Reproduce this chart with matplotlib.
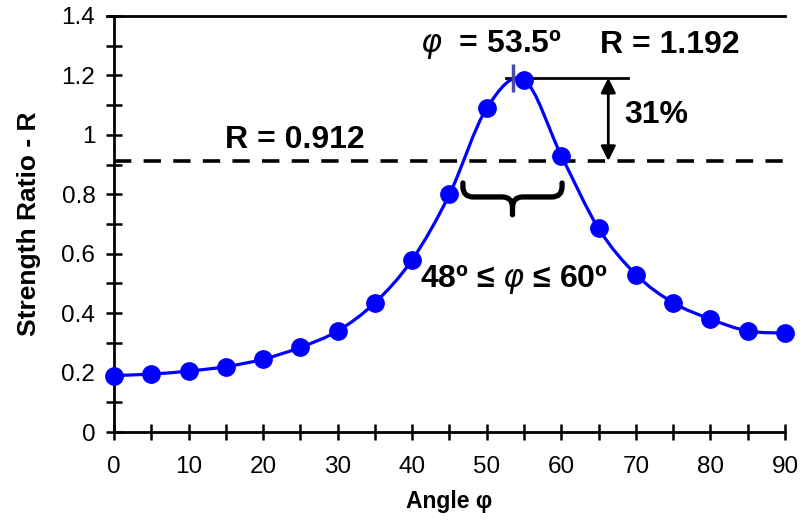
import matplotlib.pyplot as plt
from matplotlib.path import Path
from matplotlib.patches import PathPatch
from matplotlib.ticker import MultipleLocator

plt.rcParams['font.family'] = ['Liberation Sans', 'DejaVu Sans']
plt.rcParams['mathtext.fontset'] = 'dejavusans'

# dados
angulos = [0, 5, 10, 15, 20, 25, 30, 35, 40, 45, 50, 55, 60, 65, 70, 75, 80, 85, 90]
razao = [0.19, 0.195, 0.205, 0.22, 0.245, 0.285, 0.34, 0.435, 0.58, 0.80, 1.09,
         1.185, 0.93, 0.685, 0.53, 0.435, 0.38, 0.34, 0.333]
pico_angulo = 53.5
pico_r = 1.192
r_limite = 0.912
faixa = (48, 60)
rotulos_y = ['0', '0.2', '0.4', '0.6', '0.8', '1', '1.2', '1.4']

fig = plt.figure(figsize=(8.07, 5.21), dpi=100)
ax = fig.add_axes([0.1413, 0.1708, 0.8314, 0.7985])

# curva suavizada (estilo Excel) via Bezier Catmull-Rom
azul = '#0000ff'
verts = [(angulos[0], razao[0])]
codes = [Path.MOVETO]
n = len(angulos)
for i in range(n - 1):
    p0 = (angulos[max(i - 1, 0)], razao[max(i - 1, 0)])
    p1 = (angulos[i], razao[i])
    p2 = (angulos[i + 1], razao[i + 1])
    p3 = (angulos[min(i + 2, n - 1)], razao[min(i + 2, n - 1)])
    c1 = (p1[0] + (p2[0] - p0[0]) / 6, p1[1] + (p2[1] - p0[1]) / 6)
    c2 = (p2[0] - (p3[0] - p1[0]) / 6, p2[1] - (p3[1] - p1[1]) / 6)
    verts += [c1, c2, p2]
    codes += [Path.CURVE4] * 3
ax.add_patch(PathPatch(Path(verts, codes), fill=False, ec=azul, lw=2.3, zorder=3))
ax.plot(angulos, razao, 'o', color=azul, ms=12.5, zorder=4, clip_on=False)
ax.plot([pico_angulo], [pico_r], '|', color='#4b4ba8', ms=20, mew=2.5, zorder=5)

# linhas de referência
ax.axhline(r_limite, color='black', lw=2.6, ls=(0, (4.8, 3.4)), zorder=2)
ax.plot([52.6, 68.9], [pico_r, pico_r], color='black', lw=2, zorder=2)
ax.annotate('', xy=(66.3, r_limite), xytext=(66.3, pico_r),
            arrowprops=dict(arrowstyle='<|-|>', color='black', lw=2,
                            mutation_scale=22, shrinkA=0, shrinkB=0))

# chave
x0, x1 = faixa[0] - 1.2, faixa[1] + 0.1
xm = (x0 + x1) / 2
yt, yh, yb = 0.838, 0.791, 0.731
rx, ry = 1.4, 0.035
chave = Path([(x0, yt), (x0, yh + ry), (x0, yh), (x0 + rx, yh),
              (xm - rx, yh), (xm, yh), (xm, yh - ry), (xm, yb),
              (xm, yh - ry), (xm, yh), (xm + rx, yh),
              (x1 - rx, yh), (x1, yh), (x1, yh + ry), (x1, yt)],
             [Path.MOVETO, Path.LINETO, Path.CURVE3, Path.CURVE3,
              Path.LINETO, Path.CURVE3, Path.CURVE3, Path.LINETO,
              Path.MOVETO, Path.CURVE3, Path.CURVE3,
              Path.LINETO, Path.CURVE3, Path.CURVE3, Path.LINETO])
ax.add_patch(PathPatch(chave, fill=False, ec='black', lw=3.8, capstyle='round',
                       joinstyle='round', zorder=2))

# textos
fs = 23
ax.text(41.0, 1.303, r'$\varphi$  = 53.5º', fontsize=fs, fontweight='bold', va='center')
ax.text(65.2, 1.303, 'R = 1.192', fontsize=fs, fontweight='bold', va='center')
ax.text(14.9, 0.983, 'R = 0.912', fontsize=fs, fontweight='bold', va='center')
ax.text(68.5, 1.067, '31%', fontsize=fs, fontweight='bold', va='center')
ax.text(41.0, 0.512, r'48º ≤ $\varphi$ ≤ 60º', fontsize=fs, fontweight='bold', va='center')

ax.set_xlim(0, 90)
ax.set_ylim(0, 1.4)
ax.xaxis.set_major_locator(MultipleLocator(10))
ax.xaxis.set_minor_locator(MultipleLocator(5))
ax.yaxis.set_minor_locator(MultipleLocator(0.1))
ax.set_yticks([0, 0.2, 0.4, 0.6, 0.8, 1.0, 1.2, 1.4])
ax.set_yticklabels(rotulos_y)
ax.tick_params(which='both', direction='inout', length=11, width=1.8, labelsize=17.5)
ax.tick_params(axis='x', pad=12)
ax.tick_params(axis='y', pad=8)
ax.spines['right'].set_visible(False)
for lado in ['left', 'bottom', 'top']:
    ax.spines[lado].set_linewidth(2)
ax.spines['top'].set_bounds(-0.9, 90)

ax.set_xlabel('Angle φ', fontsize=16.5, fontweight='bold')
ax.set_ylabel('Strength Ratio - R', fontsize=19, fontweight='bold')
ax.xaxis.set_label_coords(0.5, -0.166)
ax.xaxis.label.set_va('center')
ax.yaxis.set_label_coords(-0.127, 0.5)
ax.yaxis.label.set_va('center')

fig.savefig('out.png', dpi=100)
